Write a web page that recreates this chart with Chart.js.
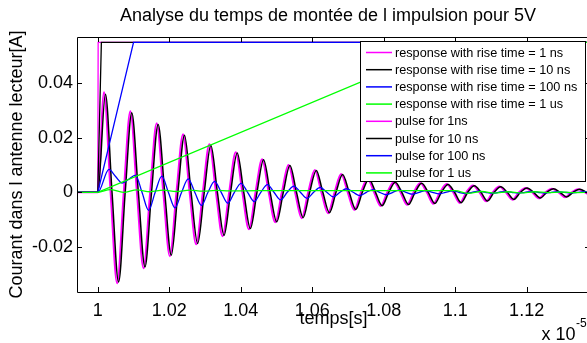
<!DOCTYPE html>
<html>
<head>
<meta charset="utf-8">
<title>Analyse du temps de montée</title>
<script src="https://cdn.jsdelivr.net/npm/chart.js@4.4.1/dist/chart.umd.min.js"></script>
<style>
  html, body { margin: 0; padding: 0; background: #fff; overflow: hidden; }
  #wrap { width: 587px; height: 343px; overflow: hidden; }
</style>
</head>
<body>
<div id="wrap"><canvas id="chart" width="656" height="343"></canvas></div>
<script>
const FONT = "'Liberation Sans', Arial, Helvetica, sans-serif";

// time axis is in units of 1e-5 s
const xMin = 0.99418;
const xMax = 1.13773;
const yMin = -0.03659;
const yMax = 0.05699;

const xTicks = [1, 1.02, 1.04, 1.06, 1.08, 1.1, 1.12];
const xTickLabels = ['1', '1.02', '1.04', '1.06', '1.08', '1.1', '1.12'];
const yTicks = [-0.02, 0, 0.02, 0.04];
const yTickLabels = ['-0.02', '0', '0.02', '0.04'];

const seriesLabels = [
  'response with rise time = 1 ns',
  'response with rise time = 10 ns',
  'response with rise time = 100 ns',
  'response with rise time = 1 us',
  'pulse for 1ns',
  'pulse for 10 ns',
  'pulse for 100 ns',
  'pulse for 1 us',
];
const seriesColors = ['#ff00ff', '#000000', '#0000ff', '#00ff00', '#ff00ff', '#000000', '#0000ff', '#00ff00'];

// response, rise time 1 ns (peaks / troughs and zero crossings)
const resp1nsT = [
  0.994, 1.0,
  1.00174, 1.00358, 1.00542, 1.00727, 1.00911, 1.01095, 1.01280, 1.01464, 1.01648, 1.01833,
  1.02017, 1.02201, 1.02386, 1.02570, 1.02754, 1.02939, 1.03123, 1.03307, 1.03492, 1.03676,
  1.03861, 1.04045, 1.04229, 1.04414, 1.04598, 1.04782, 1.04967, 1.05151, 1.05335, 1.05520,
  1.05704, 1.05888, 1.06073, 1.06257, 1.06441, 1.06626, 1.06810, 1.06994, 1.07179, 1.07363,
  1.07548, 1.07732, 1.07916, 1.08101, 1.08285, 1.08469, 1.08654, 1.08838, 1.09022, 1.09207,
  1.09391, 1.09575, 1.09760, 1.09944, 1.10128, 1.10313, 1.10497, 1.10681, 1.10866, 1.11050,
  1.11235, 1.11419, 1.11603, 1.11788, 1.11972, 1.12156, 1.12341, 1.12525, 1.12709, 1.12894,
  1.13078, 1.13262, 1.13447, 1.13631, 1.13815
];
const resp1nsA = [
  0, 0,
  0.0367, 0, -0.0334, 0, 0.0297, 0, -0.0279, 0, 0.0253, 0,
  -0.0235, 0, 0.0213, 0, -0.0191, 0, 0.0176, 0, -0.0161, 0,
  0.0147, 0, -0.0136, 0, 0.0121, 0, -0.0110, 0, 0.0100, 0,
  -0.0095, 0, 0.0082, 0, -0.0077, 0, 0.0067, 0, -0.0065, 0,
  0.0050, 0, -0.0050, 0, 0.0038, 0, -0.0046, 0, 0.0034, 0,
  -0.0042, 0, 0.0030, 0, -0.0039, 0, 0.0025, 0, -0.0033, 0,
  0.0021, 0, -0.0027, 0, 0.0016, 0, -0.0022, 0, 0.0013, 0,
  -0.0018, 0, 0.0011, 0, -0.0015
];

// response, rise time 10 ns
const resp10nsT = [
  0.994, 1.0,
  1.00214, 1.00398, 1.00582, 1.00767, 1.00951, 1.01135, 1.01320, 1.01504, 1.01688, 1.01873,
  1.02057, 1.02241, 1.02426, 1.02610, 1.02794, 1.02979, 1.03163, 1.03347, 1.03532, 1.03716,
  1.03901, 1.04085, 1.04269, 1.04454, 1.04638, 1.04822, 1.05007, 1.05191, 1.05375, 1.05560,
  1.05744, 1.05928, 1.06113, 1.06297, 1.06481, 1.06666, 1.06850, 1.07034, 1.07219, 1.07403,
  1.07588, 1.07772, 1.07956, 1.08141, 1.08325, 1.08509, 1.08694, 1.08878, 1.09062, 1.09247,
  1.09431, 1.09615, 1.09800, 1.09984, 1.10168, 1.10353, 1.10537, 1.10721, 1.10906, 1.11090,
  1.11275, 1.11459, 1.11643, 1.11828, 1.12012, 1.12196, 1.12381, 1.12565, 1.12749, 1.12934,
  1.13118, 1.13302, 1.13487, 1.13671, 1.13855
];
const resp10nsA = [
  0, 0,
  0.0360, 0, -0.0329, 0, 0.0292, 0, -0.0274, 0, 0.0249, 0,
  -0.0231, 0, 0.0209, 0, -0.0188, 0, 0.0173, 0, -0.0158, 0,
  0.0144, 0, -0.0133, 0, 0.0119, 0, -0.0108, 0, 0.0098, 0,
  -0.0093, 0, 0.0080, 0, -0.0075, 0, 0.0065, 0, -0.0063, 0,
  0.0049, 0, -0.0049, 0, 0.0037, 0, -0.0045, 0, 0.0033, 0,
  -0.0041, 0, 0.0029, 0, -0.0038, 0, 0.0024, 0, -0.0032, 0,
  0.0020, 0, -0.0026, 0, 0.0016, 0, -0.0021, 0, 0.0013, 0,
  -0.0017, 0, 0.0011, 0, -0.0014
];

// response, rise time 100 ns
const resp100nsT = [
  0.994, 1.0,
  1.00313, 1.00498, 1.00683, 1.00867, 1.01052, 1.01237, 1.01421, 1.01606, 1.01791, 1.01975,
  1.02160, 1.02345, 1.02530, 1.02714, 1.02899, 1.03083, 1.03268, 1.03453, 1.03638, 1.03822,
  1.04007, 1.04192, 1.04377, 1.04561, 1.04746, 1.04930, 1.05115, 1.05300, 1.05485, 1.05669,
  1.05854, 1.06039, 1.06224, 1.06408, 1.06593, 1.06777, 1.06962, 1.07147, 1.07332, 1.07516,
  1.07701, 1.07886, 1.08071, 1.08255, 1.08440, 1.08624, 1.08809, 1.08994, 1.09179, 1.09363,
  1.09548, 1.09733, 1.09918, 1.10102, 1.10287, 1.10471, 1.10656, 1.10841, 1.11026, 1.11210,
  1.11395, 1.11580, 1.11765, 1.11949, 1.12134, 1.12318, 1.12503, 1.12688, 1.12873, 1.13057,
  1.13242, 1.13427, 1.13612, 1.13796
];
const resp100nsA = [
  0, 0,
  0.0084, 0.0058, 0.0034, 0.0048, 0.0063, 0, -0.0066, 0, 0.0059, 0,
  -0.0057, 0, 0.0049, 0, -0.0048, 0, 0.0040, 0, -0.0040, 0,
  0.0033, 0, -0.0034, 0, 0.0028, 0, -0.0028, 0, 0.0023, 0,
  -0.0022, 0, 0.0018, 0, -0.0017, 0, 0.0013, 0, -0.0012, 0,
  0.0010, 0, -0.0009, 0, 0.0008, 0, -0.0007, 0, 0.0006, 0,
  -0.0006, 0, 0.0005, 0, -0.0005, 0, 0.0004, 0, -0.0004, 0,
  0.0003, 0, -0.0003, 0, 0.0003, 0, -0.0003, 0, 0.0002, 0,
  -0.0002, 0, 0.0002, 0
];

// response, rise time 1 us
const resp1usT = [
  0.994, 1.0, 1.0035, 1.0072, 1.0109, 1.0146, 1.0183, 1.0220, 1.0257, 1.0294, 1.0331, 1.0368,
  1.045, 1.06, 1.08, 1.1, 1.1037, 1.1074, 1.1111, 1.1148, 1.1185, 1.1222, 1.1259, 1.1296, 1.1333, 1.138
];
const resp1usA = [
  0, 0, 0.0010, 0.0000, 0.0009, 0.0002, 0.0008, 0.0003, 0.0008, 0.0004, 0.0007, 0.0005,
  0.0006, 0.0006, 0.0006, 0.0006, -0.0004, 0.0003, -0.0003, 0.0002, -0.0002, 0.0002, -0.0001, 0.0001, -0.0001, 0
];

// input pulses (ramp then plateau)
const pulse1nsT = [0.994, 1.0, 1.0001, 1.14];
const pulse10nsT = [0.994, 1.0, 1.001, 1.14];
const pulse100nsT = [0.994, 1.0, 1.01, 1.14];
const pulse1usT = [0.994, 1.0, 1.1, 1.14];
const pulseA = [0, 0, 0.055, 0.055];

const seriesT = [resp1nsT, resp10nsT, resp100nsT, resp1usT, pulse1nsT, pulse10nsT, pulse100nsT, pulse1usT];
const seriesA = [resp1nsA, resp10nsA, resp100nsA, resp1usA, pulseA, pulseA, pulseA, pulseA];
const seriesWidths = [2, 1.5, 1.3, 1.3, 1.3, 1.3, 1.3, 1.3];

function toPoints(t, a) {
  return t.map((x, i) => ({ x, y: a[i] }));
}

const datasets = seriesLabels.map((label, i) => ({
  label,
  data: toPoints(seriesT[i], seriesA[i]),
  borderColor: seriesColors[i],
  backgroundColor: seriesColors[i],
  borderWidth: seriesWidths[i],
  pointRadius: 0,
  fill: false,
  yAxisID: 'y',
  cubicInterpolationMode: i < 4 ? 'monotone' : 'default',
  tension: 0,
  order: 8 - i, // later series drawn on top, as in the original figure
}));

/**
 * Boxed axes with inward ticks, the boxed legend and the x 10^-5 multiplier
 */
const matlabAxes = {
  id: 'matlabAxes',
  afterDatasetsDraw(chart) {
    const { ctx, chartArea: a, scales: { x, y } } = chart;
    const len = 5;
    ctx.save();
    ctx.strokeStyle = '#000';
    ctx.lineWidth = 1;
    ctx.beginPath();
    ctx.rect(a.left + 0.5, a.top + 0.5, a.right - a.left, a.bottom - a.top);
    xTicks.forEach(v => {
      const px = Math.round(x.getPixelForValue(v)) + 0.5;
      ctx.moveTo(px, a.bottom); ctx.lineTo(px, a.bottom - len);
      ctx.moveTo(px, a.top); ctx.lineTo(px, a.top + len);
    });
    yTicks.forEach(v => {
      const py = Math.round(y.getPixelForValue(v)) + 0.5;
      ctx.moveTo(a.left, py); ctx.lineTo(a.left + len, py);
      ctx.moveTo(a.right, py); ctx.lineTo(a.right - len, py);
    });
    ctx.stroke();
    ctx.restore();
  },
  afterDraw(chart) {
    const { ctx } = chart;
    // legend box
    const box = { left: 360.5, top: 41.5, width: 225, height: 140 };
    const rowH = 17.2;
    const firstRow = 52.5;
    ctx.save();
    ctx.fillStyle = '#fff';
    ctx.fillRect(box.left, box.top, box.width, box.height);
    ctx.strokeStyle = '#000';
    ctx.lineWidth = 1;
    ctx.strokeRect(box.left, box.top, box.width, box.height);
    ctx.font = `12.7px ${FONT}`;
    ctx.textBaseline = 'middle';
    ctx.textAlign = 'left';
    chart.data.datasets.forEach((ds, i) => {
      const yy = firstRow + i * rowH;
      ctx.strokeStyle = ds.borderColor;
      ctx.lineWidth = 1.5;
      ctx.beginPath();
      ctx.moveTo(366, yy);
      ctx.lineTo(392, yy);
      ctx.stroke();
      ctx.fillStyle = '#000';
      ctx.fillText(ds.label, 395, yy + 0.5);
    });
    // exponent of the time axis
    ctx.textBaseline = 'alphabetic';
    ctx.font = `18px ${FONT}`;
    ctx.fillText('x 10', 541.5, 340);
    ctx.font = `12px ${FONT}`;
    ctx.fillText('-5', 576, 327);
    ctx.restore();
  }
};

new Chart(document.getElementById('chart'), {
  type: 'line',
  data: { datasets },
  options: {
    responsive: false,
    animation: false,
    events: [],
    layout: { padding: 0 },
    plugins: {
      legend: { display: false },
      tooltip: { enabled: false },
      title: {
        display: true,
        text: 'Analyse du temps de montée de l impulsion pour 5V',
        color: '#000',
        font: { family: FONT, size: 18, weight: 'normal' },
        padding: { top: 5, bottom: 10.4 },
      },
    },
    scales: {
      x: {
        type: 'linear',
        min: xMin,
        max: xMax,
        afterFit: (s) => { s.height = 51; },
        afterBuildTicks: (s) => { s.ticks = xTicks.map(v => ({ value: v })); },
        grid: { display: false, drawTicks: false },
        border: { display: false },
        ticks: {
          autoSkip: false,
          maxRotation: 0,
          padding: 8,
          color: '#000',
          font: { family: FONT, size: 18 },
          callback: (v, i) => xTickLabels[i],
        },
        title: {
          display: true,
          text: 'temps[s]',
          color: '#000',
          font: { family: FONT, size: 18 },
          padding: { top: 0, bottom: 13.5 },
        },
      },
      y: {
        type: 'linear',
        position: 'left',
        min: yMin,
        max: yMax,
        afterFit: (s) => { s.width = 77; },
        afterBuildTicks: (s) => { s.ticks = yTicks.map(v => ({ value: v })); },
        grid: { display: false, drawTicks: false },
        border: { display: false },
        ticks: {
          padding: 4,
          color: '#000',
          font: { family: FONT, size: 18 },
          callback: (v, i) => yTickLabels[i],
        },
        title: {
          display: true,
          text: 'Courant dans l antenne lecteur[A]',
          color: '#000',
          font: { family: FONT, size: 18 },
          padding: { top: 6.7, bottom: 0 },
        },
      },
      // empty right-hand strip, keeps the title centred like the original figure
      y2: {
        type: 'linear',
        position: 'right',
        min: 0,
        max: 1,
        afterFit: (s) => { s.width = 66; },
        grid: { display: false, drawTicks: false },
        border: { display: false },
        ticks: { display: false },
      },
    },
  },
  plugins: [matlabAxes],
});
</script>
</body>
</html>
